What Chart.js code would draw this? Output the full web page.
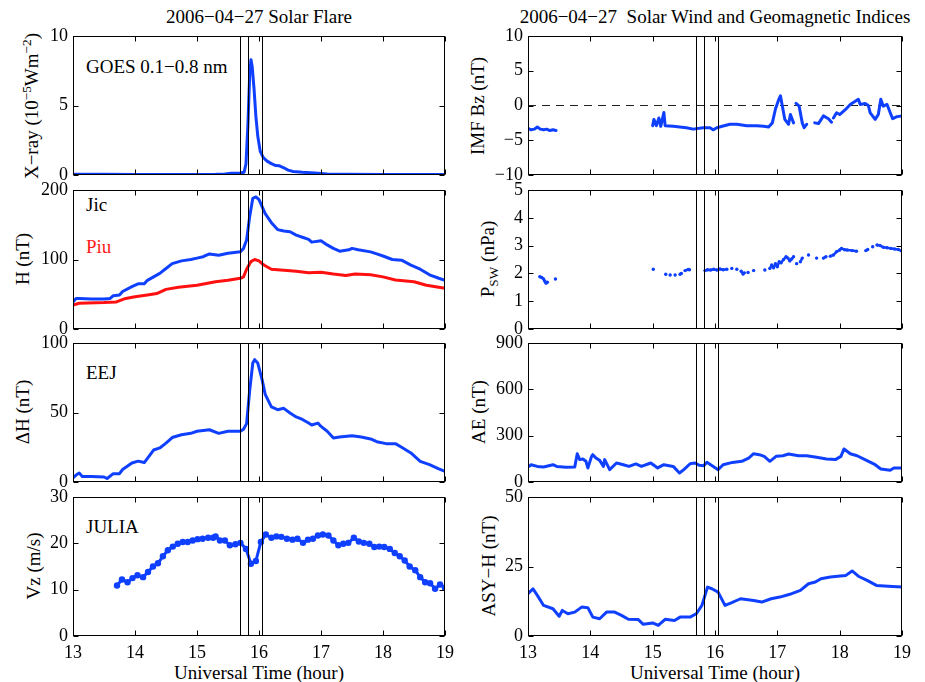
<!DOCTYPE html>
<html>
<head>
<meta charset="utf-8">
<script src="https://cdn.jsdelivr.net/npm/chart.js@4.4.0/dist/chart.umd.min.js"></script>
<style>
  body { margin:0; width:925px; height:682px; position:relative; overflow:hidden; background:#fff;
         font-family:"Liberation Serif","Times New Roman",serif; color:#000; }
  canvas { position:absolute; }
  .t { position:absolute; font-size:19px; line-height:1; white-space:pre; }
  .c { transform:translateX(-50%); }
  .yl { position:absolute; font-size:19px; line-height:1; white-space:pre;
        transform:translate(-50%,-50%) rotate(-90deg); }
  .yl sup, .yl sub { font-size:0.7em; vertical-align:baseline; position:relative; }
  .yl sup { top:-0.5em; }
  .yl sub { top:0.3em; }
</style>
</head>
<body>
<div class="t c" style="left:259px;top:7px">2006−04−27 Solar Flare</div>
<div class="t c" style="left:715px;top:7px">2006−04−27  Solar Wind and Geomagnetic Indices</div>

<div class="t" style="left:86px;top:57px">GOES 0.1−0.8 nm</div>
<div class="t" style="left:86px;top:195px">Jic</div>
<div class="t" style="left:86px;top:237px;color:#ff1a1a">Piu</div>
<div class="t" style="left:86px;top:363px">EEJ</div>
<div class="t" style="left:86px;top:517px">JULIA</div>

<div class="yl" style="left:31px;top:106px">X−ray (10<sup>−5</sup>Wm<sup>−2</sup>)</div>
<div class="yl" style="left:22px;top:259px">H (nT)</div>
<div class="yl" style="left:22px;top:412px">ΔH (nT)</div>
<div class="yl" style="left:33px;top:566px">Vz (m/s)</div>
<div class="yl" style="left:477px;top:106px">IMF Bz (nT)</div>
<div class="yl" style="left:487px;top:259px">P<sub>SW</sub> (nPa)</div>
<div class="yl" style="left:478px;top:412px">AE (nT)</div>
<div class="yl" style="left:488px;top:566px">ASY−H (nT)</div>

<div class="t c" style="left:259px;top:663px">Universal Time (hour)</div>
<div class="t c" style="left:715px;top:663px">Universal Time (hour)</div>

<script>
// ---- data ----
const hourTicks = [13, 14, 15, 16, 17, 18, 19];
const flareHours = [15.7, 15.83, 16.05];

const xrayTicks = [0, 5, 10];
const hTicks = [0, 100, 200];
const eejTicks = [0, 50, 100];
const vzTicks = [0, 10, 20, 30];
const bzTicks = [-10, -5, 0, 5, 10];
const pswTicks = [0, 1, 2, 3, 4, 5];
const aeTicks = [0, 300, 600, 900];
const asyTicks = [0, 25, 50];

const xrayHour = [13.0,13.5,14.0,14.5,15.0,15.3,15.45,15.55,15.7,15.76,15.79,15.82,15.85,15.87,15.89,15.92,15.95,15.98,16.02,16.07,16.13,16.2,16.27,16.33,16.4,16.47,16.55,16.7,16.9,17.1,17.4,18.0,18.5,19.0];
const xrayFlux = [0.05,0.05,0.04,0.04,0.04,0.05,0.08,0.12,0.15,0.2,0.8,3.5,7.2,8.3,7.8,6.2,4.2,2.8,1.7,1.25,1.0,0.82,0.68,0.66,0.52,0.35,0.25,0.19,0.14,0.08,0.05,0.04,0.04,0.04];

const jicHour = [13.0,13.05,13.1,13.3,13.5,13.6,13.65,13.75,13.8,13.95,14.05,14.15,14.2,14.3,14.4,14.5,14.6,14.75,14.9,15.0,15.1,15.2,15.35,15.5,15.7,15.75,15.8,15.85,15.9,15.95,16.0,16.05,16.1,16.2,16.3,16.4,16.5,16.6,16.7,16.8,16.85,17.0,17.1,17.2,17.3,17.45,17.5,17.6,17.8,17.9,18.0,18.15,18.3,18.45,18.6,18.75,18.9,19.0];
const jicH = [39,44,44,43,43,44,48,49,54,61,65,65,70,75,80,87,94,98,100,102,104,108,106,109,111,116,128,162,188,190,186,176,166,153,143,141,140,135,132,129,125,127,121,116,112,114,116,114,111,108,105,100,99,92,86,78,73,70];

const piuHour = [13.0,13.1,13.5,13.7,13.85,14.0,14.2,14.35,14.5,14.7,15.0,15.3,15.5,15.7,15.75,15.8,15.87,15.93,16.0,16.05,16.1,16.2,16.35,16.6,16.8,17.0,17.2,17.4,17.55,17.8,18.0,18.2,18.5,18.7,19.0];
const piuH = [34.5,37,38,39,44,46.5,49,51,57,60,63,68,70,73,75,86,97,100,98,94,91,86,85,83,81,81.5,79,77,79,78,75,70.5,68,63,58.5];

const eejHour = [13.0,13.05,13.1,13.15,13.3,13.5,13.55,13.65,13.75,13.8,13.95,14.05,14.15,14.2,14.3,14.4,14.5,14.6,14.75,14.9,15.0,15.2,15.35,15.5,15.7,15.75,15.8,15.85,15.9,15.93,15.98,16.05,16.1,16.2,16.3,16.4,16.5,16.6,16.7,16.8,16.85,16.95,17.0,17.1,17.2,17.3,17.5,17.65,17.8,17.9,18.05,18.2,18.3,18.45,18.6,18.75,18.9,19.0];
const eejDH = [3,5,6.5,4,4,3.6,2.5,6,6,9,13.7,15,14,17,23,24.5,28,32,34,35,36.5,37.6,35,36.5,36.5,38,42,66,85.6,88,85.6,73.6,63,54,52,53,49.6,46.8,45,42.4,41,42.4,40,36.5,31.7,32.4,33.3,32.4,31,29,27.6,27.6,25,20.9,14.9,12.5,9.4,7.7];

const juliaHour = [13.71,13.79,13.88,13.96,14.04,14.13,14.21,14.29,14.37,14.45,14.53,14.61,14.69,14.77,14.85,14.93,15.01,15.09,15.18,15.26,15.30,15.37,15.45,15.53,15.62,15.70,15.79,15.87,15.95,16.03,16.11,16.20,16.28,16.36,16.45,16.54,16.62,16.71,16.79,16.87,16.95,17.03,17.12,17.20,17.28,17.36,17.44,17.53,17.61,17.69,17.78,17.86,17.94,18.02,18.11,18.19,18.27,18.35,18.43,18.52,18.60,18.68,18.76,18.84,18.92,19.00];
const juliaVz = [10.9,12.2,11.6,12.5,13.1,12.7,13.8,15.0,15.7,17.2,18.5,19.3,19.9,20.3,20.3,20.6,20.9,21.0,21.2,21.2,21.5,20.6,20.6,19.6,19.8,20.1,18.8,15.6,16.2,20.3,21.9,21.2,21.5,21.4,21.0,20.8,21.0,20.1,20.8,21.0,21.7,21.9,21.7,20.6,19.6,19.9,20.1,21.2,20.4,20.1,19.9,19.2,19.3,19.2,18.8,17.9,17.2,16.3,15.0,14.2,12.7,11.6,11.4,10.2,11.1,10.4];

const bzHour = [13.0,13.05,13.1,13.15,13.2,13.25,13.3,13.35,13.4,13.45,13.5,
  15.0,15.02,15.06,15.1,15.13,15.18,15.2,15.33,15.54,15.65,15.81,15.92,15.97,16.03,16.13,16.24,16.35,16.51,16.67,16.78,16.86,16.92,16.97,17.02,17.05,17.12,17.18,17.21,17.26,17.28,
  17.3,17.35,17.4,17.43,17.47,17.53,
  17.6,17.66,17.74,17.82,17.87,17.885,
  17.9,17.95,18.0,18.09,18.17,18.25,18.3,18.33,18.41,18.46,18.49,18.57,18.62,18.66,18.7,18.76,18.81,18.85,18.92,19.0];
const bzVal = [-3.3,-3.5,-3.4,-3.1,-3.4,-3.5,-3.4,-3.6,-3.5,-3.6,null,
  -2.9,-2.0,-2.9,-1.8,-3.0,-1.0,-2.9,-3.0,-3.2,-3.4,-3.2,-3.2,-3.5,-3.2,-2.95,-2.7,-2.7,-2.9,-2.9,-3.0,-3.1,-2.5,-0.5,0.8,1.4,-2.0,-2.7,-1.3,-2.5,null,
  0.3,-0.1,-2.5,-3.2,-2.7,null,
  -2.5,-2.6,-1.5,-1.9,-2.4,null,
  -1.8,-1.05,-1.3,-0.6,0.15,0.6,0.9,0.15,0.3,0,-1.05,-2.0,-1.3,0.9,-0.1,0.15,-1.0,-1.9,-1.6,-1.5];
const bzZeroHour = [13, 19];
const bzZeroVal = [0, 0];

const pswHour = [13.19,13.22,13.25,13.27,13.29,13.31,13.37, 13.44,13.5, 15.01,15.1, 15.21,15.25, 15.28,15.32, 15.36,15.4,
  15.44,15.46,15.49, 15.52,15.57,15.59,15.7, 15.84,15.88,15.93,15.98,16.03,16.08,16.13,16.19,16.23, 16.27,16.31, 16.35,16.39,
  16.42,16.45,16.47,16.5, 16.53,16.58, 16.62,16.7, 16.8,16.84,
  16.88,16.91,16.94,16.97,17.0,17.03,17.06,17.1,17.14,17.17,17.2,17.23,17.26,17.29, 17.31,17.34, 17.37,17.4,17.45,
  17.5,17.56, 17.63,17.68, 17.74,17.78,17.81, 17.85,17.9,17.95,18.0,18.03,18.08,18.12,18.2,18.27,18.35,
  18.42,18.45,18.5, 18.53,18.57, 18.6,18.65,18.7,18.76,18.82,18.88,18.94,19.0];
const pswVal = [1.88,1.85,1.8,1.72,1.65,1.68,null, 1.8,null, 2.15,null, 1.97,null, 1.94,null, 1.94,null,
  1.97,2.0,null, 2.1,2.14,2.13,null, 2.1,2.13,2.12,2.15,2.12,2.16,2.13,2.15,null, 2.18,null, 2.15,null,
  2.08,1.98,2.02,null, 2.03,null, 2.1,null, 2.12,null,
  2.18,2.3,2.2,2.35,2.24,2.42,2.38,2.5,2.6,2.55,2.45,2.52,2.6,null, 2.35,null, 2.42,2.55,null,
  2.66,null, 2.55,null, 2.55,2.6,null, 2.62,2.66,2.78,2.84,2.9,2.85,2.84,2.82,2.8,null,
  2.82,2.86,null, 2.96,null, 3.02,3.0,2.94,2.92,2.9,2.88,2.86,2.8];

const aeHour = [13.0,13.05,13.15,13.25,13.4,13.46,13.61,13.75,13.79,13.83,13.88,13.93,13.96,14.02,14.04,14.09,14.15,14.21,14.23,14.31,14.42,14.53,14.62,14.73,14.82,14.97,15.08,15.18,15.33,15.43,15.5,15.6,15.68,15.75,15.82,15.87,15.93,16.05,16.13,16.28,16.43,16.54,16.62,16.71,16.79,16.88,16.98,17.09,17.18,17.34,17.47,17.63,17.79,17.93,18.02,18.07,18.17,18.28,18.43,18.57,18.66,18.81,18.87,19.0];
const aeVal = [97,112,101,97,112,101,95,97,183,145,149,134,91,166,177,155,140,101,145,80,123,112,101,117,101,123,91,112,101,58,80,118,123,108,106,128,112,80,112,127,134,155,183,177,166,134,166,170,181,170,170,160,149,145,166,214,183,170,140,112,84,76,91,91];

const asyHour = [13.0,13.08,13.15,13.25,13.4,13.5,13.55,13.64,13.75,13.86,13.96,14.04,14.15,14.26,14.39,14.5,14.61,14.77,14.85,15.0,15.09,15.2,15.35,15.44,15.6,15.7,15.79,15.88,15.95,16.05,16.16,16.26,16.41,16.62,16.75,16.9,17.04,17.2,17.37,17.5,17.61,17.7,17.85,18.01,18.1,18.2,18.3,18.44,18.59,18.78,19.0];
const asyVal = [15.2,17,14.6,11,9.8,7.1,9.2,8,8.6,10.4,10.2,6.8,6.2,8.6,8.6,7.4,6.0,5.9,4.2,4.7,3.8,6.0,5.6,6.8,6.8,8,11,17.6,17,15.8,11,11.9,13.4,12.8,12.2,13.4,14,15,16.4,18.8,19.4,20.6,21.2,21.6,21.8,23.4,21.5,20,18.2,17.9,17.6];

// ---- drawing ----
const FONT = '"Liberation Serif", "Times New Roman", serif';
const BLUE = 'rgb(16,64,255)';
const RED = 'rgb(255,16,16)';
const rowTop = [36, 190, 343, 497];
const plotH = 139;

function pts(hours, vals) {
  return hours.map((h, i) => ({x: h, y: vals[i]}));
}

function line(hours, vals, color, extra) {
  return Object.assign({
    data: pts(hours, vals), borderColor: color, backgroundColor: color,
    borderWidth: 3, pointRadius: 0, borderJoinStyle: 'round', borderCapStyle: 'round',
    spanGaps: false, tension: 0
  }, extra || {});
}

// box, inward ticks and the three flare markers
const framePlugin = {
  id: 'frame',
  afterDatasetsDraw(chart) {
    const {ctx, chartArea: a} = chart;
    const x = chart.scales.x, y = chart.scales.y;
    const L = Math.round(a.left) + 0.5, R = Math.round(a.right) - 0.5;
    const T = Math.round(a.top) + 0.5, B = Math.round(a.bottom) - 0.5;
    ctx.save();
    ctx.strokeStyle = '#000';
    ctx.lineWidth = 1;
    ctx.beginPath();
    flareHours.forEach(h => {
      const px = Math.round(x.getPixelForValue(h)) + 0.5;
      ctx.moveTo(px, T); ctx.lineTo(px, B);
    });
    x.ticks.forEach(t => {
      const px = Math.round(x.getPixelForValue(t.value)) + 0.5;
      ctx.moveTo(px, B); ctx.lineTo(px, B - 5);
      ctx.moveTo(px, T); ctx.lineTo(px, T + 5);
    });
    y.ticks.forEach(t => {
      const py = Math.round(y.getPixelForValue(t.value)) + 0.5;
      ctx.moveTo(L, py); ctx.lineTo(L + 5, py);
      ctx.moveTo(R, py); ctx.lineTo(R - 5, py);
    });
    ctx.stroke();
    ctx.strokeRect(L, T, R - L, B - T);
    ctx.restore();
  }
};

function panel(col, row, datasets, yTicks) {
  const last = row === 3;
  const left = col === 0 ? 0 : 455;
  const w = col === 0 ? 460 : 470;
  const top = rowTop[row] - 16;
  const h = last ? 682 - top : plotH + 32;
  const cv = document.createElement('canvas');
  cv.width = w; cv.height = h;
  cv.style.left = left + 'px';
  cv.style.top = top + 'px';
  document.body.appendChild(cv);
  new Chart(cv, {
    type: 'line',
    data: {datasets: datasets},
    options: {
      responsive: false,
      animation: false,
      events: [],
      layout: {padding: {left: 0, top: 16, right: col === 0 ? 15 : 23, bottom: last ? 0 : 16}},
      plugins: {legend: {display: false}, tooltip: {enabled: false}},
      scales: {
        x: {
          type: 'linear', min: hourTicks[0], max: hourTicks[hourTicks.length - 1],
          grid: {display: false, drawTicks: false}, border: {display: false},
          afterBuildTicks: s => { s.ticks = hourTicks.map(v => ({value: v})); },
          ticks: {display: last, padding: 6, color: '#000', font: {family: FONT, size: 18}},
          afterFit: s => { s.height = last ? 46 : 0; }
        },
        y: {
          type: 'linear', min: yTicks[0], max: yTicks[yTicks.length - 1],
          grid: {display: false, drawTicks: false}, border: {display: false},
          afterBuildTicks: s => { s.ticks = yTicks.map(v => ({value: v})); },
          ticks: {padding: 5, color: '#000', autoSkip: false, font: {family: FONT, size: 18},
                  callback: v => String(v).replace('-', '\u2212')},
          afterFit: s => { s.width = 73; }
        }
      }
    },
    plugins: [framePlugin]
  });
}

panel(0, 0, [line(xrayHour, xrayFlux, BLUE)], xrayTicks);
panel(0, 1, [line(jicHour, jicH, BLUE), line(piuHour, piuH, RED)], hTicks);
panel(0, 2, [line(eejHour, eejDH, BLUE)], eejTicks);
panel(0, 3, [line(juliaHour, juliaVz, BLUE, {pointRadius: 3.2, pointBorderWidth: 0})], vzTicks);

panel(1, 0, [line(bzHour, bzVal, BLUE),
             line(bzZeroHour, bzZeroVal, '#222', {borderWidth: 1, borderDash: [8, 6], borderCapStyle: 'butt'})], bzTicks);
panel(1, 1, [line(pswHour, pswVal, BLUE, {borderWidth: 2.5, pointRadius: 1.7, pointBorderWidth: 0})], pswTicks);
panel(1, 2, [line(aeHour, aeVal, BLUE)], aeTicks);
panel(1, 3, [line(asyHour, asyVal, BLUE)], asyTicks);
</script>
</body>
</html>
